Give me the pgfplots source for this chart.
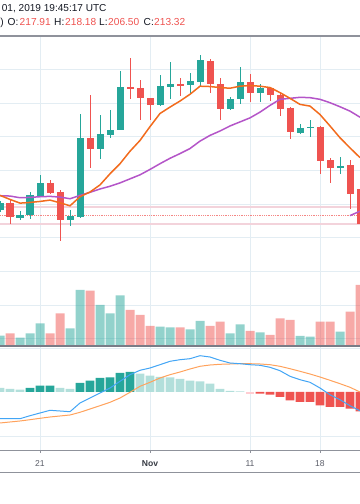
\documentclass[border=0pt]{standalone}
\usepackage{pgfplots}
\pgfplotsset{compat=1.18}
\usepackage{pgfplotstable}
\usepackage{fontspec}
\setmainfont{Liberation Sans}
\definecolor{up}{HTML}{26A69A}
\definecolor{dn}{HTML}{EF5350}
\definecolor{upL}{HTML}{B2DFDB}
\definecolor{dnL}{HTML}{FFCDD2}
\definecolor{gridc}{HTML}{E3EDF3}
\definecolor{maO}{HTML}{F26B1D}
\definecolor{maP}{HTML}{B455C8}
\definecolor{macdB}{HTML}{42A5F5}
\definecolor{sigO}{HTML}{FFA25C}
\definecolor{sep}{HTML}{8F929B}
\definecolor{txt}{HTML}{131722}
\definecolor{lbl}{HTML}{5A5D68}
\definecolor{band}{HTML}{F3D3DB}

% up candles: k open high low close
\pgfplotstableread{
k o h l c
-4 158.4 161.0 157.8 160.4
-2 155.9 157.9 155.4 156.7
-1 156.7 163.7 155.7 162.7
0 162.4 168.5 162.2 166.3
3 155.2 158.4 153.5 156.4
4 156.2 186.8 156.0 179.5
6 176.5 186.6 173.3 180.7
7 180.5 187.9 179.5 182.0
8 182.0 199.5 182.0 194.9
12 189.3 198.2 189.1 195.0
13 194.9 202.2 191.3 195.7
15 195.5 199.0 193.1 196.5
16 196.3 204.2 195.0 202.7
19 188.3 191.9 187.9 191.1
20 191.1 200.7 189.6 196.2
22 193.1 195.7 190.3 194.6
26 181.2 183.7 180.7 182.5
27 182.6 185.1 180.0 183.0
30 170.8 174.1 168.8 171.3
}\upc
% down candles
\pgfplotstableread{
k o h l c
-3 160.2 161.4 154.0 156.2
1 166.3 167.3 162.9 163.4
2 163.7 164.2 149.2 155.2
5 179.5 192.4 170.8 176.4
9 194.8 203.3 191.3 194.1
10 194.4 196.8 185.0 191.4
11 191.4 191.6 185.0 189.3
14 195.7 197.3 192.1 195.3
17 202.5 203.0 192.9 195.7
18 195.7 197.3 184.9 188.3
21 196.2 198.5 190.3 193.1
23 194.6 194.9 190.6 192.3
24 192.3 192.9 186.1 188.3
25 188.4 188.9 179.2 181.4
28 183.0 183.2 168.8 172.8
29 173.0 173.8 166.3 170.8
31 171.5 173.1 158.6 163.1
32 164.5 165.0 148.0 154.0
}\dnc
% volume (up / down days)
\pgfplotstableread{
k v
-4 10.3
-2 8.3
-1 12.7
0 22.7
3 17.7
4 56
6 41
7 32.7
8 50.7
12 19.3
13 18.7
15 16.7
16 25
19 12.7
20 21.7
22 13.7
26 10
27 9.3
30 14.3
}\volup
\pgfplotstableread{
k v
-3 12.7
1 12.7
2 32.7
5 55.3
9 36
10 31
11 20
14 18.7
17 20
18 24.3
21 15
23 11
24 27.7
25 26
28 24.3
29 24.3
31 34.3
32 61
}\voldn
% MACD histogram
\pgfplotstableread{
k h
-1 4
0 6.3
1 6.3
4 9
5 11.3
6 14
7 14.7
8 19
9 20
}\hud
\pgfplotstableread{
k h
-4 4
-3 3
-2 2.3
2 4
3 3
10 18.3
11 16.3
12 15
13 14.7
14 13
15 11.3
16 10.7
17 8.3
18 3
19 1
20 0.7
}\hul
\pgfplotstableread{
k h
21 -1.7
}\hdl
\pgfplotstableread{
k h
22 -1.7
23 -2.7
24 -5
25 -8.3
26 -10
27 -10
28 -13.3
29 -15
30 -15
31 -16.7
32 -19.3
}\hdd

\pgfplotsset{tv/.style={scale only axis, width=360bp, xmin=-4, xmax=32,
  axis line style={draw=none}, tick style={draw=none},
  xtick={0,11,21,28}, xticklabels={}, yticklabels={},
  grid=major, major grid style={gridc, line width=0.9bp}},
  candle/.style={draw=none, no markers, forget plot,
  error bars/.cd, y dir=both, y explicit, error mark=none,
  error bar style={draw=#1, line width=1bp}},
  body/.style={draw=none, no markers, forget plot,
  error bars/.cd, y dir=both, y explicit, error mark=none,
  error bar style={draw=#1, line width=7bp}}}

\begin{document}
\begin{tikzpicture}
\path[use as bounding box] (0bp,0bp) rectangle (360bp,504bp);

% ---------- price pane ----------
\begin{axis}[tv, at={(0bp,468bp)}, anchor=north west, height=310bp,
  ymin=117.9, ymax=209.9, ytick={120,130,...,200}]
\addplot[band, line width=1.8bp] coordinates {(-4,159.2) (32,159.2)};
\addplot[band, line width=1.8bp] coordinates {(-4,154.0) (32,154.0)};
\addplot[dn!70, densely dotted, line width=0.8bp] coordinates {(-4,156.7) (32,156.7)};
% wicks
\addplot[candle=up]
  table[x=k, y expr={(\thisrow{h}+\thisrow{l})/2}, y error expr={(\thisrow{h}-\thisrow{l})/2}] {\upc};
\addplot[candle=dn]
  table[x=k, y expr={(\thisrow{h}+\thisrow{l})/2}, y error expr={(\thisrow{h}-\thisrow{l})/2}] {\dnc};
% bodies
\addplot[body=up]
  table[x=k, y expr={(\thisrow{o}+\thisrow{c})/2}, y error expr={max(abs(\thisrow{c}-\thisrow{o})/2,0.18)}] {\upc};
\addplot[body=dn]
  table[x=k, y expr={(\thisrow{o}+\thisrow{c})/2}, y error expr={max(abs(\thisrow{c}-\thisrow{o})/2,0.18)}] {\dnc};
% moving averages
\addplot[maP, line width=1.5bp, mark=none] coordinates {
(-4,162.5) (-3,162.4) (-2,161.9) (-1,162.0) (0,162.2) (1,162.3) (2,162.1) (3,161.6)
(4,162.6) (5,163.5) (6,164.5) (7,165.3) (8,166.3) (9,167.5) (10,168.7) (11,170.3)
(12,172.0) (13,173.6) (14,175.0) (15,176.5) (16,178.7) (17,180.4) (18,181.7) (19,183.2)
(20,184.4) (21,185.6) (22,187.3) (23,189.3) (24,191.1) (25,191.4) (26,191.7) (27,191.6)
(28,191.1) (29,190.1) (30,188.9) (31,187.6) (32,185.8)};
\addplot[maP, line width=1.5bp, mark=none] coordinates {(31,156.6) (32,157.9)};
\addplot[maO, line width=1.5bp, mark=none] coordinates {
(-4,162.6) (-3,161.4) (-2,160.3) (-1,160.5) (0,160.8) (1,161.2) (2,160.4) (3,159.5)
(4,162.2) (5,163.6) (6,165.7) (7,169.0) (8,172.0) (9,175.7) (10,178.9) (11,183.0)
(12,186.9) (13,188.8) (14,190.6) (15,192.6) (16,195.0) (17,194.9) (18,194.6) (19,194.4)
(20,195.0) (21,195.2) (22,195.0) (23,194.6) (24,193.1) (25,191.4) (26,189.6) (27,189.1)
(28,186.6) (29,183.2) (30,179.7) (31,176.7) (32,173.8)};
\end{axis}

% ---------- volume overlay ----------
\begin{axis}[scale only axis, width=360bp, height=310bp, at={(0bp,468bp)}, anchor=north west,
  xmin=-4, xmax=32, ymin=0, ymax=310, hide axis]
\addplot[ybar, bar width=0.9, bar shift=0pt, fill=up, fill opacity=0.5, draw=none] table[x=k,y=v] {\volup};
\addplot[ybar, bar width=0.9, bar shift=0pt, fill=dn, fill opacity=0.5, draw=none] table[x=k,y=v] {\voldn};
\end{axis}

% ---------- MACD pane ----------
\begin{axis}[tv, at={(0bp,158bp)}, anchor=north west, height=104bp,
  ymin=-58, ymax=46, ytick={-44,44},
  xtick pos=bottom, xtick style={draw=sep, line width=0.8bp}, ytick style={draw=none},
  tick align=outside, major tick length=3bp,
  xticklabels={21,\textbf{\color{txt!85}Nov},11,18},
  xticklabel style={font=\fontsize{8.6}{10}\selectfont, text=lbl, anchor=base, yshift=-14bp}]
\addplot[ybar, bar width=0.88, bar shift=0pt, fill=upL, draw=none] table[x=k,y=h] {\hul};
\addplot[ybar, bar width=0.88, bar shift=0pt, fill=up, draw=none] table[x=k,y=h] {\hud};
\addplot[ybar, bar width=0.88, bar shift=0pt, fill=dnL, draw=none] table[x=k,y=h] {\hdl};
\addplot[ybar, bar width=0.88, bar shift=0pt, fill=dn, draw=none] table[x=k,y=h] {\hdd};
\addplot[sigO, line width=1bp, mark=none] coordinates {
(-4,-31) (-3,-30) (-2,-29) (-1,-27.7) (0,-26.3) (1,-25) (2,-24) (3,-23) (4,-20.3)
(5,-17) (6,-13.7) (7,-10.3) (8,-6) (9,-0.3) (10,5.7) (11,9.7) (12,14) (13,17.3)
(14,20) (15,23) (16,25.7) (17,27) (18,27.7) (19,28) (20,28.3) (21,28.3) (22,28)
(23,27.3) (24,25.7) (25,23.3) (26,20.7) (27,18) (28,15) (29,11.7) (30,8.3) (31,4.7) (32,0)};
\addplot[macdB, line width=1bp, mark=none] coordinates {
(-4,-26.7) (-3,-26.7) (-2,-26.7) (-1,-23.7) (0,-21) (1,-18.3) (2,-19) (3,-19.7) (4,-11)
(5,-6) (6,-1) (7,4) (8,10.7) (9,17.3) (10,21.7) (11,24) (12,27.3) (13,30.7)
(14,32.3) (15,33.3) (16,36.3) (17,35) (18,31.7) (19,29) (20,28.3) (21,27.3) (22,26.7)
(23,24.7) (24,21.3) (25,15.7) (26,12.3) (27,9.7) (28,4) (29,-2.7) (30,-7.7) (31,-13.7) (32,-18.7)};
\end{axis}

% ---------- pane separators ----------
\draw[sep, line width=1.3bp] (0bp,468bp) -- (360bp,468bp);
\draw[sep!120, line width=1.2bp] (0bp,158bp) -- (360bp,158bp);
\draw[sep, line width=1bp] (0bp,53bp) -- (360bp,53bp);
\draw[sep, line width=1bp] (0bp,31bp) -- (360bp,31bp);

% ---------- header ----------
\node[anchor=base west, inner sep=0, text=txt, font=\fontsize{10.1}{12}\selectfont] at (1.7bp,492.3bp) {01, 2019 19:45:17 UTC};
\begin{scope}[every node/.style={anchor=base west, inner sep=0, font=\fontsize{10.2}{12}\selectfont}]
\node[text=txt] at (0.3bp,478bp) {)};
\node[text=txt] at (7.5bp,478bp) {O:};
\node[text=dn] at (19.5bp,478bp) {217.91};
\node[text=txt] at (54bp,478bp) {H:};
\node[text=dn] at (65bp,478bp) {218.18};
\node[text=txt] at (99bp,478bp) {L:};
\node[text=dn] at (108bp,478bp) {206.50};
\node[text=txt] at (143.5bp,478bp) {C:};
\node[text=dn] at (154bp,478bp) {213.32};
\end{scope}
\end{tikzpicture}
\end{document}
